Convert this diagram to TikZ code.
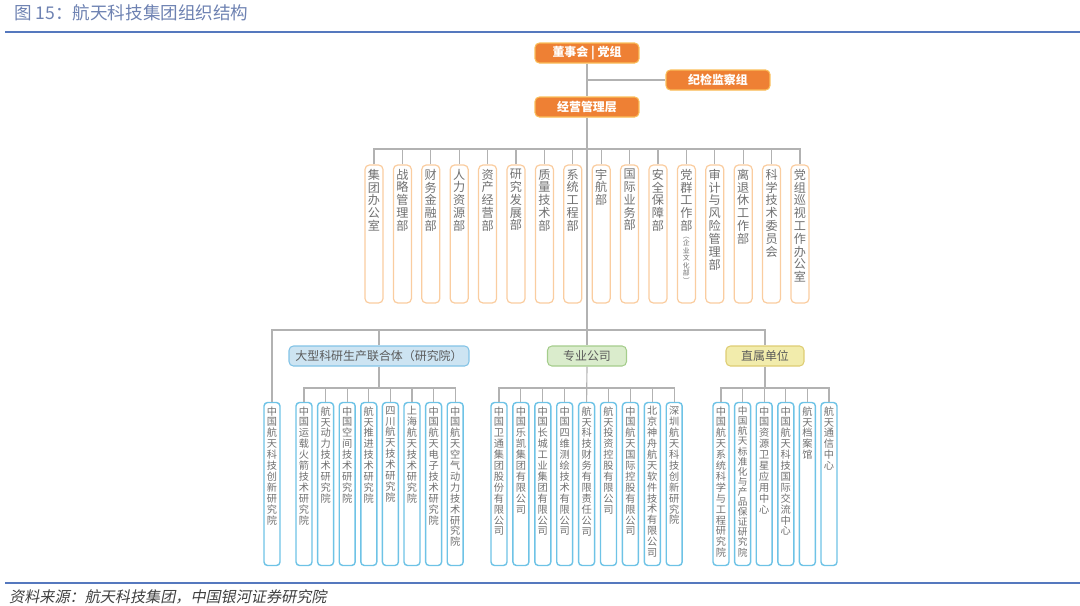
\documentclass[tikz,border=0pt]{standalone}
\usepackage{fontspec}
\setmainfont{Noto Sans CJK SC}
\newfontfamily\srcfont[FakeSlant=0.2]{Noto Sans CJK SC}
\usetikzlibrary{positioning}
\definecolor{xorange}{RGB}{238,128,52}
\definecolor{xorangeline}{RGB}{250,190,90}
\definecolor{xdeptline}{RGB}{250,205,160}
\definecolor{xunitline}{RGB}{110,195,230}
\definecolor{xblue}{RGB}{205,228,242}
\definecolor{xblueline}{RGB}{130,195,230}
\definecolor{xgreen}{RGB}{218,236,204}
\definecolor{xgreenline}{RGB}{165,205,140}
\definecolor{xyellow}{RGB}{242,236,172}
\definecolor{xyellowline}{RGB}{222,205,115}
\definecolor{xtext}{RGB}{112,112,112}
\definecolor{xwire}{RGB}{178,178,178}
\definecolor{xtitle}{RGB}{110,130,178}
\definecolor{xrule}{RGB}{85,120,190}
% vertical text: one character per line
\def\vtxtaux#1{\ifx\relax#1\else#1\par\expandafter\vtxtaux\fi}
\newcommand\vtxt[1]{\expandafter\vtxtaux#1\relax}
\newcommand\vcol[2]{\parbox[c][#1][t]{0.26cm}{\centering\parskip=0pt\vtxt{#2}}}
\newcommand\vsmall[1]{{\fontsize{3.9pt}{4.3pt}\selectfont\vtxt{#1}}}
\newcommand\squeeze{\fontsize{5.5pt}{5.75pt}\selectfont}

\begin{document}
\begin{tikzpicture}[x=0.02cm, y=-0.02cm,
  topbox/.style={draw=xorangeline, fill=xorange, rounded corners=2.5pt, line width=0.6pt,
                 minimum width=2.08cm, minimum height=0.4cm, inner sep=0pt,
                 text=white, font=\fontsize{6.8pt}{8pt}\selectfont\bfseries},
  grpbox/.style={rounded corners=2.5pt, line width=0.6pt, minimum height=0.4cm, inner sep=0pt,
                 text=xtext!80!black, font=\fontsize{6.8pt}{8pt}\selectfont},
  dept/.style={draw=xdeptline, fill=white, rounded corners=2.5pt, line width=0.7pt,
               minimum width=0.36cm, minimum height=2.76cm, inner sep=0pt,
               text=xtext, font=\fontsize{6.9pt}{7.3pt}\selectfont},
  unit/.style={draw=xunitline, fill=white, rounded corners=2pt, line width=0.8pt,
               minimum width=0.32cm, minimum height=3.26cm, inner sep=0pt,
               text=xtext, font=\fontsize{5.8pt}{6.2pt}\selectfont},
  wire/.style={draw=xwire, line width=0.65pt}
]
  \useasboundingbox (0,0) rectangle (1080,606);
  \node[anchor=west, text=xtitle, font=\fontsize{10pt}{12pt}\selectfont] (title) at (8,13) {图 15：航天科技集团组织结构};
  \draw[xrule, line width=0.9pt] (5,32) -- (1080,32);
  \draw[xrule, line width=0.9pt] (5,583) -- (1080,583);
  \node[anchor=west, text=black!75, font=\srcfont\fontsize{8.6pt}{10pt}\selectfont] (src) at (3,597) {资料来源：航天科技集团，中国银河证券研究院};

  \node[topbox] (board) at (587,53)  {董事会 | 党组};
  \node[topbox] (jjjc)  at (718,80)  {纪检监察组};
  \node[topbox] (mgmt)  at (587,107) {经营管理层};

  \coordinate (deptBus)  at (587,149);
  \coordinate (groupBus) at (587,330);
  \coordinate (subBus)   at (587,388);

  \foreach \t [count=\i] in {集团办公室,战略管理部,财务金融部,人力资源部,资产经营部,研究发展部,
      质量技术部,系统工程部,宇航部,国际业务部,安全保障部,党群工作部{\vsmall{︵企业文化部︶}},
      审计与风险管理部,离退休工作部,科学技术委员会,党组巡视工作办公室}
    \node[dept] (d\i) at ({374+28.4*(\i-1)},234) {\vcol{2.6cm}{\t}};

  \node[grpbox, draw=xblueline, fill=xblue, minimum width=3.6cm] (yjy) at (379,356) {大型科研生产联合体（研究院）};
  \node[grpbox, draw=xgreenline, fill=xgreen, minimum width=1.58cm] (zygs) at (587,356) {专业公司};
  \node[grpbox, draw=xyellowline, fill=xyellow, minimum width=1.56cm] (zsdw) at (765,356) {直属单位};

  \node[unit] (u1) at (272,484) {\vcol{3.1cm}{中国航天科技创新研究院}};
  \foreach \t [count=\i] in {中国运载火箭技术研究院,航天动力技术研究院,中国空间技术研究院,航天推进技术研究院,
      四川航天技术研究院,上海航天技术研究院,中国航天电子技术研究院,中国航天空气动力技术研究院}
    \node[unit] (a\i) at ({304+21.6*(\i-1)},484) {\vcol{3.1cm}{\t}};
  \foreach \t [count=\i] in {中国卫通集团股份有限公司,中国乐凯集团有限公司,中国长城工业集团有限公司,
      中国四维测绘技术有限公司,航天科技财务有限责任公司,航天投资控股有限公司,中国航天国际控股有限公司,
      北京神舟航天软件技术有限公司,深圳航天科技创新研究院}
    \node[unit] (b\i) at ({499+21.9*(\i-1)},484) {\vcol{3.1cm}{\t}};
  \foreach \t [count=\i] in {中国航天系统科学与工程研究院,\squeeze 中国航天标准化与产品保证研究院,
      中国资源卫星应用中心,中国航天科技国际交流中心,航天档案馆,航天通信中心}
    \node[unit] (c\i) at ({721+21.6*(\i-1)},484) {\vcol{3.1cm}{\t}};

  \draw[wire] (board) -- (mgmt);
  \draw[wire] (board.south |- jjjc.west) -- (jjjc.west);
  \draw[wire] (mgmt) -- (zygs);
  \draw[wire] (d1.north) -- (d1.north |- deptBus) -- (d16.north |- deptBus) -- (d16.north);
  \foreach \i in {2,...,15} \draw[wire] (d\i.north) -- (d\i.north |- deptBus);
  \draw[wire] (u1.north) |- (zsdw.north |- groupBus) -- (zsdw.north);
  \draw[wire] (yjy.north) -- (yjy.north |- groupBus);
  \draw[wire] (yjy.south) -- (yjy.south |- subBus);
  \draw[wire] (a1.north) |- (a8.north |- subBus) -- (a8.north);
  \foreach \i in {2,...,7} \draw[wire] (a\i.north) -- (a\i.north |- subBus);
  \draw[wire] (zygs.south) -- (b5.north);
  \draw[wire] (b1.north) |- (b9.north |- subBus) -- (b9.north);
  \foreach \i in {2,3,4,6,7,8} \draw[wire] (b\i.north) -- (b\i.north |- subBus);
  \draw[wire] (zsdw.south) -- (zsdw.south |- subBus);
  \draw[wire] (c1.north) |- (c6.north |- subBus) -- (c6.north);
  \foreach \i in {2,...,5} \draw[wire] (c\i.north) -- (c\i.north |- subBus);
\end{tikzpicture}
\end{document}
